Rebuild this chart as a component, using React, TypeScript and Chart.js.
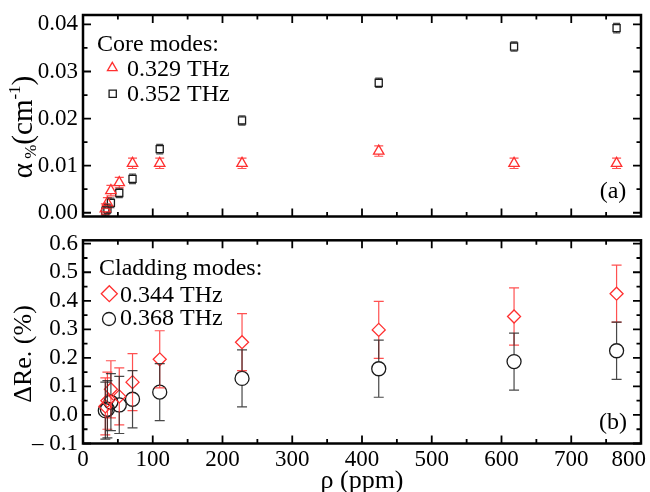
import React, { useEffect, useRef } from 'react';
import { Chart, registerables } from 'chart.js';

Chart.register(...registerables);

// ---------- data ----------
const rho = [32, 35, 40, 52, 71, 110, 228, 424, 618, 765];

const core329 = [0.0008, 0.0021, 0.0047, 0.0064, 0.0105, 0.0105, 0.0105, 0.0131, 0.0105, 0.0105];
const core329Err = [0.0011, 0.0011, 0.0011, 0.0011, 0.0011, 0.0011, 0.0011, 0.0011, 0.0011, 0.0011];
const core352 = [0.0003, 0.0008, 0.0021, 0.0042, 0.0072, 0.0135, 0.0196, 0.0276, 0.0353, 0.0392];
const core352Err = [0.001, 0.001, 0.001, 0.001, 0.001, 0.001, 0.001, 0.001, 0.001, 0.001];

const clad344 = [0.03, 0.05, 0.09, 0.065, 0.115, 0.195, 0.255, 0.298, 0.345, 0.425];
const clad344Err = [0.1, 0.1, 0.1, 0.1, 0.1, 0.1, 0.1, 0.1, 0.1, 0.1];
const clad368 = [0.015, 0.02, 0.045, 0.035, 0.055, 0.08, 0.128, 0.162, 0.187, 0.225];
const clad368Err = [0.1, 0.1, 0.1, 0.1, 0.1, 0.1, 0.1, 0.1, 0.1, 0.1];

const xTickValues = [0, 100, 200, 300, 400, 500, 600, 700, 800];

const FONT = '"Liberation Serif", "Times New Roman", serif';
const RED = '#ff2f2f';
const RED_BAR = 'rgba(255,50,50,0.85)';
const BLK = '#1a1a1a';
const BLK_BAR = 'rgba(40,40,40,0.85)';

// ---------- helpers ----------
function drawMarker(ctx: CanvasRenderingContext2D, style: string, x: number, y: number, r: number, color: string, lw = 1.3) {
  ctx.save();
  ctx.strokeStyle = color;
  ctx.lineWidth = lw;
  ctx.beginPath();
  if (style === 'triangle') {
    ctx.moveTo(x, y - r);
    ctx.lineTo(x + r * Math.sin((2 * Math.PI) / 3), y - r * Math.cos((2 * Math.PI) / 3));
    ctx.lineTo(x + r * Math.sin((4 * Math.PI) / 3), y - r * Math.cos((4 * Math.PI) / 3));
    ctx.closePath();
  } else if (style === 'rect') {
    const s = Math.SQRT1_2 * r;
    ctx.rect(x - s, y - s, 2 * s, 2 * s);
  } else if (style === 'rectRot') {
    ctx.moveTo(x - r, y);
    ctx.lineTo(x, y - r);
    ctx.lineTo(x + r, y);
    ctx.lineTo(x, y + r);
    ctx.closePath();
  } else {
    ctx.arc(x, y, r, 0, Math.PI * 2);
  }
  ctx.stroke();
  ctx.restore();
}

function markerExtent(style: string, r: number) {
  if (style === 'triangle') return { top: r, bottom: r / 2 };
  if (style === 'rect') return { top: Math.SQRT1_2 * r, bottom: Math.SQRT1_2 * r };
  return { top: r, bottom: r };
}

const errorBarPlugin = {
  id: 'errorBars',
  afterDatasetsDraw(chart: any) {
    const { ctx, scales } = chart;
    const ys = scales.y;
    chart.data.datasets.forEach((ds: any, i: number) => {
      const meta = chart.getDatasetMeta(i);
      const ext = markerExtent(ds.pointStyle, ds.pointRadius);
      ctx.save();
      ctx.strokeStyle = ds.barColor;
      ctx.lineWidth = 1.2;
      meta.data.forEach((el: any, j: number) => {
        const v = ds.data[j].y;
        const e = ds.errors[j];
        const yt = ys.getPixelForValue(v + e);
        const yb = ys.getPixelForValue(v - e);
        const x = el.x;
        const y = el.y;
        ctx.beginPath();
        if (yt < y - ext.top) {
          ctx.moveTo(x, y - ext.top);
          ctx.lineTo(x, yt);
        }
        if (yb > y + ext.bottom) {
          ctx.moveTo(x, y + ext.bottom);
          ctx.lineTo(x, yb);
        }
        ctx.moveTo(x - ds.capHalf, yt);
        ctx.lineTo(x + ds.capHalf, yt);
        ctx.moveTo(x - ds.capHalf, yb);
        ctx.lineTo(x + ds.capHalf, yb);
        ctx.stroke();
      });
      ctx.restore();
    });
  },
};

const frameTicksPlugin = {
  id: 'frameTicks',
  afterDraw(chart: any) {
    const { ctx, chartArea: a, scales } = chart;
    const xs = scales.x;
    const ys = scales.y;
    const MAJ = 8;
    const MIN = 4.5;
    ctx.save();
    ctx.strokeStyle = '#000';
    ctx.lineWidth = 1.8;
    ctx.beginPath();
    const xVals: { v: number; major: boolean }[] = [];
    xTickValues.forEach((v, i) => {
      xVals.push({ v, major: true });
      if (i < xTickValues.length - 1) xVals.push({ v: (v + xTickValues[i + 1]) / 2, major: false });
    });
    xVals.forEach(({ v, major }) => {
      const px = xs.getPixelForValue(v);
      const L = major ? MAJ : MIN;
      ctx.moveTo(px, a.bottom);
      ctx.lineTo(px, a.bottom - L);
      ctx.moveTo(px, a.top);
      ctx.lineTo(px, a.top + L);
    });
    const yt = ys.ticks.map((t: any) => t.value);
    const step = yt.length > 1 ? yt[1] - yt[0] : 0;
    const yVals: { v: number; major: boolean }[] = [];
    yt.forEach((v: number) => {
      yVals.push({ v, major: true });
      yVals.push({ v: v + step / 2, major: false });
      yVals.push({ v: v - step / 2, major: false });
    });
    yVals.forEach(({ v, major }) => {
      if (v < ys.min - 1e-9 || v > ys.max + 1e-9) return;
      const py = ys.getPixelForValue(v);
      const L = major ? MAJ : MIN;
      ctx.moveTo(a.left, py);
      ctx.lineTo(a.left + L, py);
      ctx.moveTo(a.right, py);
      ctx.lineTo(a.right - L, py);
    });
    ctx.stroke();
    ctx.lineWidth = 2.5;
    ctx.strokeRect(a.left, a.top, a.right - a.left, a.bottom - a.top);
    ctx.restore();
  },
};

function makeTextPlugin(draw: (ctx: CanvasRenderingContext2D, chart: any) => void) {
  return {
    id: 'texts',
    afterDraw(chart: any) {
      const ctx = chart.ctx as CanvasRenderingContext2D;
      ctx.save();
      ctx.fillStyle = '#000';
      draw(ctx, chart);
      ctx.restore();
    },
  };
}

function drawRotatedParts(
  ctx: CanvasRenderingContext2D,
  parts: { t: string; size: number; dy: number }[],
  baseX: number,
  centerY: number
) {
  let total = 0;
  parts.forEach((p) => {
    ctx.font = `${p.size}px ${FONT}`;
    total += ctx.measureText(p.t).width;
  });
  ctx.save();
  ctx.translate(baseX, centerY);
  ctx.rotate(-Math.PI / 2);
  ctx.textBaseline = 'alphabetic';
  ctx.textAlign = 'left';
  let x = -total / 2;
  parts.forEach((p) => {
    ctx.font = `${p.size}px ${FONT}`;
    ctx.fillText(p.t, x, p.dy);
    x += ctx.measureText(p.t).width;
  });
  ctx.restore();
}

function yScale(min: number, max: number, step: number, fmt: (v: number) => string) {
  return {
    type: 'linear',
    min,
    max,
    afterFit(s: any) {
      s.width = 83;
      s.paddingTop = 0;
      s.paddingBottom = 0;
    },
    grid: { display: false, drawTicks: false },
    border: { display: false },
    ticks: {
      stepSize: step,
      includeBounds: false,
      autoSkip: false,
      padding: 5,
      color: '#000',
      font: { family: FONT, size: 23, lineHeight: 1 },
      callback: (v: any) => fmt(Number(v)),
    },
  };
}

function pts(ys: number[]) {
  return rho.map((x, i) => ({ x, y: ys[i] }));
}

export default function App() {
  const topRef = useRef<HTMLCanvasElement>(null);
  const botRef = useRef<HTMLCanvasElement>(null);

  useEffect(() => {
    const common = {
      animation: false,
      responsive: false,
      events: [],
      plugins: { legend: { display: false }, tooltip: { enabled: false } },
    };

    const top = new Chart(topRef.current as HTMLCanvasElement, {
      type: 'scatter',
      data: {
        datasets: [
          {
            label: '0.329 THz',
            data: pts(core329),
            errors: core329Err,
            barColor: RED_BAR,
            capHalf: 4.5,
            pointStyle: 'triangle',
            pointRadius: 6,
            pointBorderWidth: 1.3,
            pointBorderColor: RED,
            pointBackgroundColor: 'rgba(0,0,0,0)',
            clip: false,
          } as any,
          {
            label: '0.352 THz',
            data: pts(core352),
            errors: core352Err,
            barColor: BLK_BAR,
            capHalf: 3.5,
            pointStyle: 'rect',
            pointRadius: 5,
            pointBorderWidth: 1.3,
            pointBorderColor: BLK,
            pointBackgroundColor: 'rgba(0,0,0,0)',
            clip: false,
          } as any,
        ],
      },
      options: {
        ...common,
        layout: { padding: { left: 0, right: 9, top: 15, bottom: 15.5 } },
        scales: {
          x: { type: 'linear', min: 0, max: 800, display: false },
          y: yScale(-0.0008, 0.042, 0.01, (v) => v.toFixed(2)) as any,
        },
      } as any,
      plugins: [
        errorBarPlugin,
        frameTicksPlugin,
        makeTextPlugin((ctx) => {
          drawRotatedParts(
            ctx,
            [
              { t: 'α', size: 29, dy: 0 },
              { t: ' %', size: 17, dy: 4 },
              { t: '(cm', size: 29, dy: 0 },
              { t: '-1', size: 17, dy: -12 },
              { t: ')', size: 29, dy: 0 },
            ],
            32,
            127
          );
          ctx.font = `24px ${FONT}`;
          ctx.textAlign = 'left';
          ctx.textBaseline = 'alphabetic';
          ctx.fillText('Core modes:', 97, 50.7);
          drawMarker(ctx, 'triangle', 112.3, 67.9, 5.6, RED);
          ctx.fillText('0.329 THz', 127, 75.7);
          drawMarker(ctx, 'rect', 112.7, 93.7, 5.1, BLK);
          ctx.fillText('0.352 THz', 127, 100.7);
          ctx.textAlign = 'center';
          ctx.textBaseline = 'middle';
          ctx.fillText('(a)', 613, 192);
        }),
      ],
    } as any);

    const bot = new Chart(botRef.current as HTMLCanvasElement, {
      type: 'scatter',
      data: {
        datasets: [
          {
            label: '0.344 THz',
            data: pts(clad344),
            errors: clad344Err,
            barColor: RED_BAR,
            capHalf: 5,
            pointStyle: 'rectRot',
            pointRadius: 6.5,
            pointBorderWidth: 1.3,
            pointBorderColor: RED,
            pointBackgroundColor: 'rgba(0,0,0,0)',
            clip: false,
          } as any,
          {
            label: '0.368 THz',
            data: pts(clad368),
            errors: clad368Err,
            barColor: BLK_BAR,
            capHalf: 5,
            pointStyle: 'circle',
            pointRadius: 7,
            pointBorderWidth: 1.3,
            pointBorderColor: BLK,
            pointBackgroundColor: 'rgba(0,0,0,0)',
            clip: false,
          } as any,
        ],
      },
      options: {
        ...common,
        layout: { padding: { left: 0, right: 9, top: 8, bottom: 48.5 } },
        scales: {
          x: { type: 'linear', min: 0, max: 800, display: false },
          y: yScale(-0.1, 0.612, 0.1, (v) =>
            v < -1e-9 ? '\u2013 ' + Math.abs(v).toFixed(1) : Math.abs(v).toFixed(1)
          ) as any,
        },
      } as any,
      plugins: [
        errorBarPlugin,
        frameTicksPlugin,
        makeTextPlugin((ctx, chart) => {
          drawRotatedParts(ctx, [{ t: 'ΔRe. (%)', size: 26, dy: 0 }], 31, 122);
          ctx.font = `24px ${FONT}`;
          ctx.textAlign = 'left';
          ctx.textBaseline = 'alphabetic';
          ctx.fillText('Cladding modes:', 99, 42.7);
          drawMarker(ctx, 'rectRot', 109.3, 61.7, 8, RED);
          ctx.fillText('0.344 THz', 120, 70);
          drawMarker(ctx, 'circle', 109, 87, 6.5, BLK);
          ctx.fillText('0.368 THz', 120, 93.3);
          ctx.textAlign = 'center';
          ctx.textBaseline = 'middle';
          ctx.fillText('(b)', 613, 191);
          // x tick labels
          const xs = chart.scales.x;
          ctx.font = `23px ${FONT}`;
          const W = chart.width;
          xTickValues.forEach((v) => {
            const label = String(v);
            const w = ctx.measureText(label).width;
            let px = xs.getPixelForValue(v);
            if (px + w / 2 > W - 4) px = W - 4 - w / 2;
            ctx.fillText(label, px, 228);
          });
          ctx.font = `26px ${FONT}`;
          const a = chart.chartArea;
          ctx.fillText('ρ (ppm)', (a.left + a.right) / 2, 249);
        }),
      ],
    } as any);

    return () => {
      top.destroy();
      bot.destroy();
    };
  }, []);

  return (
    <div style={{ position: 'fixed', left: 0, top: 0, width: 650, height: 492, background: '#fff' }}>
      <canvas ref={topRef} width={650} height={232} style={{ position: 'absolute', left: 0, top: 0, width: 650, height: 232 }} />
      <canvas ref={botRef} width={650} height={260} style={{ position: 'absolute', left: 0, top: 232, width: 650, height: 260 }} />
    </div>
  );
}
